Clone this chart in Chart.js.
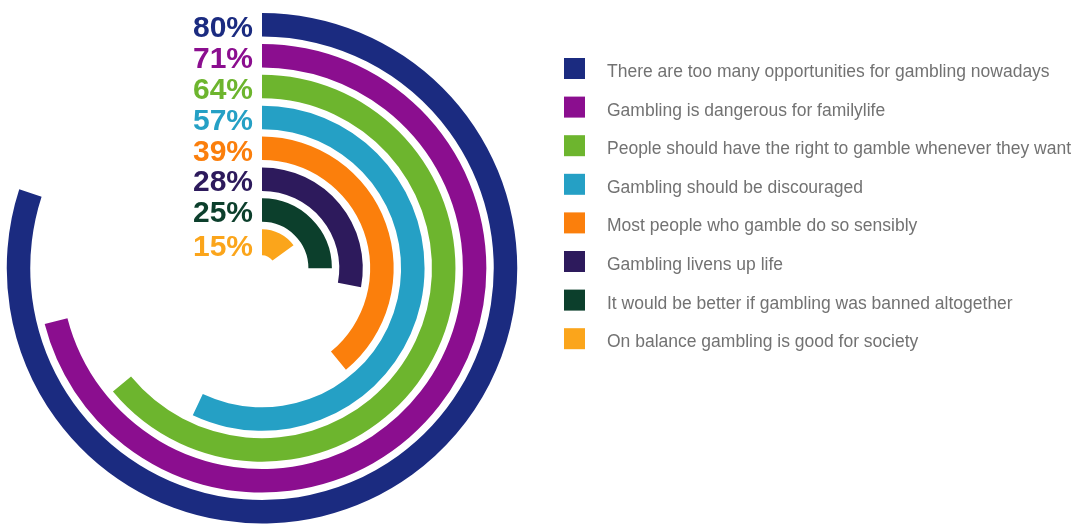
<!DOCTYPE html>
<html>
<head>
<meta charset="utf-8">
<title>Attitudes to gambling</title>
<script src="https://cdn.jsdelivr.net/npm/chart.js@4.4.1/dist/chart.umd.min.js"></script>
<style>
  html, body { margin: 0; padding: 0; background: #ffffff; overflow: hidden; }
  canvas { display: block; }
</style>
</head>
<body>
<canvas id="chart" width="1072" height="527"></canvas>
<script>
// Statements, share agreeing (%), and the colour of each ring
const statements = [
  "There are too many opportunities for gambling nowadays",
  "Gambling is dangerous for familylife",
  "People should have the right to gamble whenever they want",
  "Gambling should be discouraged",
  "Most people who gamble do so sensibly",
  "Gambling livens up life",
  "It would be better if gambling was banned altogether",
  "On balance gambling is good for society"
];
const shares = [80, 71, 64, 57, 39, 28, 25, 15];
const ringColors = ["#1b2b80", "#8b0e8f", "#6db52e", "#25a0c5", "#fb7f0c", "#2d1a5c", "#0c3f2c", "#fba51b"];
const percentLabels = shares.map(v => v + "%");

// Ring thickness and the white gap between rings (relative weights)
const BAND = 23.5;
const INNER_BAND = 26;
const GAP = 7.4;
const CLEAR = "rgba(0,0,0,0)";

const datasets = [];
statements.forEach((s, i) => {
  if (i > 0) {
    datasets.push({ label: "", data: [100], backgroundColor: [CLEAR], weight: GAP, spacer: true });
  }
  datasets.push({
    label: s,
    data: [shares[i], 100 - shares[i]],
    backgroundColor: [ringColors[i], CLEAR],
    weight: i === statements.length - 1 ? INNER_BAND : BAND,
    series: i
  });
});

// Bold percentage at the start of each ring
const percentPlugin = {
  id: "percentLabels",
  afterDatasetsDraw(chart) {
    const ctx = chart.ctx;
    chart.data.datasets.forEach((ds, di) => {
      if (ds.series === undefined) return;
      const arc = chart.getDatasetMeta(di).data[0];
      ctx.save();
      ctx.font = 'bold 30px "Liberation Sans", Arial, sans-serif';
      ctx.fillStyle = ringColors[ds.series];
      ctx.textAlign = "right";
      ctx.textBaseline = "alphabetic";
      ctx.fillText(percentLabels[ds.series], arc.x - 9, arc.y - arc.innerRadius + 0.5);
      ctx.restore();
    });
  }
};

// Square-swatch legend to the right of the rings
const sideLegend = {
  id: "sideLegend",
  afterDraw(chart) {
    const ctx = chart.ctx;
    const x0 = 564, y0 = 58, step = 38.6, box = 21;
    ctx.save();
    ctx.font = '17.5px "Liberation Sans", Arial, sans-serif';
    ctx.textAlign = "left";
    ctx.textBaseline = "alphabetic";
    statements.forEach((s, i) => {
      const top = y0 + i * step;
      ctx.fillStyle = ringColors[i];
      ctx.fillRect(x0, top, box, box);
      ctx.fillStyle = "#727272";
      ctx.fillText(s, 607, top + 19);
    });
    ctx.restore();
  }
};

new Chart(document.getElementById("chart"), {
  type: "doughnut",
  data: { labels: ["agree", "rest"], datasets },
  options: {
    responsive: false,
    animation: false,
    cutout: 13,
    rotation: 0,
    circumference: 360,
    layout: { padding: { left: 6.75, right: 554.75, top: 13, bottom: 3.5 } },
    elements: { arc: { borderWidth: 0, hoverBorderWidth: 0, hoverOffset: 0, offset: 0 } },
    plugins: { legend: { display: false }, tooltip: { enabled: false } },
    events: []
  },
  plugins: [percentPlugin, sideLegend]
});
</script>
</body>
</html>
